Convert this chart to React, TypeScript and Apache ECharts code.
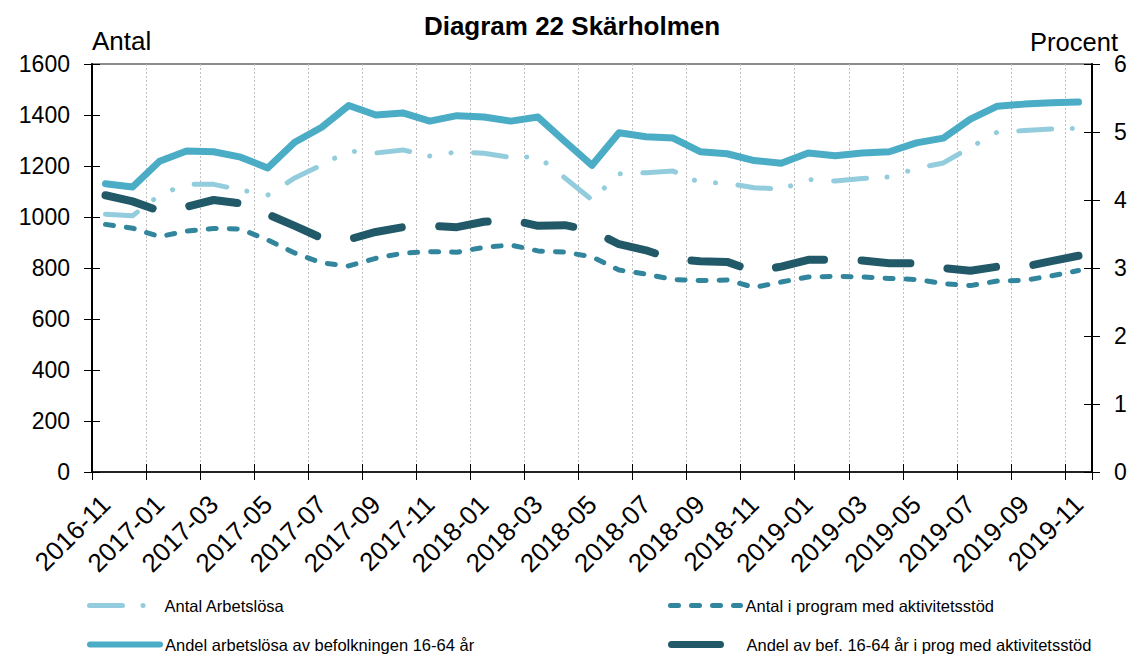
import React, { useEffect, useRef } from "react";
import * as echarts from "echarts";

const months = [
  "2016-11", "2016-12", "2017-01", "2017-02", "2017-03", "2017-04", "2017-05", "2017-06",
  "2017-07", "2017-08", "2017-09", "2017-10", "2017-11", "2017-12", "2018-01", "2018-02",
  "2018-03", "2018-04", "2018-05", "2018-06", "2018-07", "2018-08", "2018-09", "2018-10",
  "2018-11", "2018-12", "2019-01", "2019-02", "2019-03", "2019-04", "2019-05", "2019-06",
  "2019-07", "2019-08", "2019-09", "2019-10", "2019-11",
];

const antalArbetslosa = [
  1011, 1005, 1086, 1129, 1128, 1106, 1086, 1153, 1204, 1259, 1251, 1263, 1239, 1255, 1250, 1233,
  1237, 1153, 1067, 1169, 1174, 1180, 1135, 1133, 1115, 1109, 1147, 1141, 1151, 1157, 1190, 1212,
  1273, 1333, 1339, 1345, 1348,
];

const antalProgram = [
  971, 956, 923, 945, 955, 953, 910, 859, 820, 808, 838, 858, 864, 862, 881, 890,
  867, 862, 844, 792, 776, 755, 751, 753, 724, 745, 765, 767, 765, 759, 755, 739,
  731, 749, 752, 769, 790,
];

const andelArbetslosa = [
  4.24, 4.19, 4.57, 4.72, 4.71, 4.63, 4.47, 4.85, 5.07, 5.39, 5.25, 5.28, 5.16, 5.24, 5.22, 5.16,
  5.22, 4.86, 4.51, 4.99, 4.93, 4.91, 4.71, 4.68, 4.58, 4.54, 4.69, 4.65, 4.69, 4.71, 4.84, 4.91,
  5.19, 5.38, 5.41, 5.43, 5.44,
];

const andelProgram = [
  4.07, 3.98, 3.84, 3.9, 4.0, 3.95, 3.79, 3.62, 3.44, 3.42, 3.53, 3.6, 3.62, 3.6, 3.68, 3.71,
  3.62, 3.63, 3.55, 3.35, 3.26, 3.13, 3.1, 3.09, 2.95, 3.02, 3.12, 3.12, 3.11, 3.07, 3.07, 3.0,
  2.96, 3.02, 3.02, 3.1, 3.18,
];

const seriesNames = [
  "Antal Arbetslösa",
  "Antal i program med aktivitetsstöd",
  "Andel arbetslösa av befolkningen 16-64 år",
  "Andel av bef. 16-64 år i prog med aktivitetsstöd",
];

const FONT = "'Liberation Sans', Arial, sans-serif";
const C1 = "#93CDDD";
const C2 = "#31859C";
const C3 = "#4BACC6";
const C4 = "#215968";
const DASH1 = [33, 20.5, 0.1, 21.5, 0.1, 22.5];
const DASH2 = [8, 13];
const DASH4 = [49, 37.5];

export default function App() {
  const ref = useRef<HTMLDivElement>(null);
  useEffect(() => {
    if (!ref.current) return;
    const chart = echarts.init(ref.current, undefined, { renderer: "svg" });
    const legendBase = (name: string, left: number, top: number, ls: any) => ({
      data: [name],
      left,
      top,
      padding: 0,
      orient: "horizontal",
      itemWidth: 70,
      itemHeight: 14,
      itemStyle: { opacity: 0 },
      lineStyle: ls,
      textStyle: { fontFamily: FONT, fontSize: 16.5, color: "#000" },
      selectedMode: false,
    });
    const plain = (v: number) => String(v);
    chart.setOption({
      animation: false,
      textStyle: { fontFamily: FONT },
      grid: {
        left: 92,
        right: 39,
        top: 64,
        bottom: 184,
        show: true,
        borderColor: "#8C8C8C",
        borderWidth: 2,
        backgroundColor: "transparent",
      },
      graphic: [
        {
          type: "text",
          x: 572,
          y: 26,
          style: {
            text: "Diagram 22 Skärholmen",
            fontFamily: FONT,
            fontSize: 26,
            fontWeight: "bold",
            fill: "#000",
            textAlign: "center",
            textVerticalAlign: "middle",
          },
        },
        {
          type: "text",
          x: 92,
          y: 41,
          style: {
            text: "Antal",
            fontFamily: FONT,
            fontSize: 26,
            fill: "#000",
            textAlign: "left",
            textVerticalAlign: "middle",
          },
        },
        {
          type: "text",
          x: 1118,
          y: 42,
          style: {
            text: "Procent",
            fontFamily: FONT,
            fontSize: 25.5,
            fill: "#000",
            textAlign: "right",
            textVerticalAlign: "middle",
          },
        },
      ],
      legend: [
        legendBase(seriesNames[0], 87, 597, { width: 5, type: DASH1, cap: "round", color: C1 }),
        legendBase(seriesNames[1], 668, 597, { width: 5, type: DASH2, cap: "round", color: C2 }),
        legendBase(seriesNames[2], 87, 636, { width: 6, type: "solid", cap: "round", color: C3 }),
        legendBase(seriesNames[3], 668, 636, { width: 7, type: DASH4, cap: "round", color: C4 }),
      ],
      xAxis: [
        {
          type: "category",
          data: months,
          boundaryGap: true,
          axisLine: { show: true, lineStyle: { color: "#000", width: 1.5 } },
          axisTick: { show: true, interval: 1, length: 8, lineStyle: { color: "#000", width: 1 } },
          axisLabel: {
            interval: 1,
            rotate: 45,
            fontSize: 26,
            color: "#000",
            fontFamily: FONT,
            margin: 28,
          },
          splitLine: {
            show: true,
            interval: 1,
            lineStyle: { color: "#BFBFBF", type: [2, 2], width: 1 },
          },
        },
        {
          type: "category",
          data: months,
          boundaryGap: true,
          position: "bottom",
          axisLine: { show: false },
          axisTick: { show: true, inside: true, interval: 1, length: 8, lineStyle: { color: "#000", width: 1 } },
          axisLabel: { show: false },
          splitLine: { show: false },
        },
      ],
      yAxis: [
        {
          type: "value",
          position: "left",
          min: 0,
          max: 1600,
          interval: 200,
          axisLine: { show: true, lineStyle: { color: "#000", width: 2 } },
          axisTick: { show: true, length: 8, lineStyle: { color: "#000", width: 1 } },
          axisLabel: { fontSize: 23, color: "#000", fontFamily: FONT, margin: 22, formatter: plain },
          splitLine: { show: false },
        },
        {
          type: "value",
          position: "right",
          min: 0,
          max: 6,
          interval: 1,
          axisLine: { show: true, lineStyle: { color: "#000", width: 2 } },
          axisTick: { show: true, length: 8, lineStyle: { color: "#000", width: 1 } },
          axisLabel: { fontSize: 23, color: "#000", fontFamily: FONT, margin: 22, formatter: plain },
          splitLine: { show: false },
        },
        {
          type: "value",
          position: "left",
          min: 0,
          max: 1600,
          interval: 200,
          axisLine: { show: false },
          axisTick: { show: true, inside: true, length: 8, lineStyle: { color: "#000", width: 1 } },
          axisLabel: { show: false },
          splitLine: { show: false },
        },
        {
          type: "value",
          position: "right",
          min: 0,
          max: 6,
          interval: 1,
          axisLine: { show: false },
          axisTick: { show: true, inside: true, length: 8, lineStyle: { color: "#000", width: 1 } },
          axisLabel: { show: false },
          splitLine: { show: false },
        },
      ],
      series: [
        {
          name: seriesNames[0],
          type: "line",
          yAxisIndex: 0,
          data: antalArbetslosa,
          symbol: "none",
          color: C1,
          lineStyle: { color: C1, width: 5, type: DASH1, cap: "round", join: "round" },
          z: 3,
        },
        {
          name: seriesNames[1],
          type: "line",
          yAxisIndex: 0,
          data: antalProgram,
          symbol: "none",
          color: C2,
          lineStyle: { color: C2, width: 5, type: DASH2, cap: "round", join: "round" },
          z: 3,
        },
        {
          name: seriesNames[2],
          type: "line",
          yAxisIndex: 1,
          data: andelArbetslosa,
          symbol: "none",
          color: C3,
          lineStyle: { color: C3, width: 7, type: "solid", cap: "round", join: "round" },
          z: 4,
        },
        {
          name: seriesNames[3],
          type: "line",
          yAxisIndex: 1,
          data: andelProgram,
          symbol: "none",
          color: C4,
          lineStyle: { color: C4, width: 8, type: DASH4, cap: "round", join: "round" },
          z: 4,
        },
      ],
    });
    return () => chart.dispose();
  }, []);
  return (
    <div
      ref={ref}
      style={{ position: "fixed", left: 0, top: 0, width: 1131, height: 656, background: "#fff" }}
    />
  );
}
